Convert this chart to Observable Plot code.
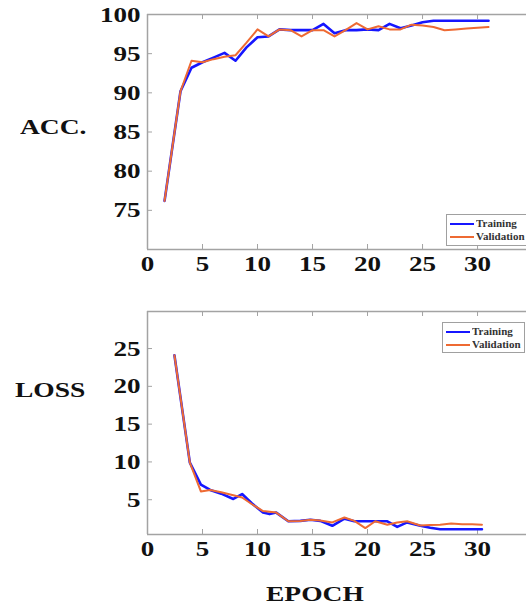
<!DOCTYPE html>
<html><head><meta charset="utf-8">
<script src="https://cdn.jsdelivr.net/npm/d3@7"></script>
<script src="https://cdn.jsdelivr.net/npm/@observablehq/plot@0.6"></script>
<style>
body{margin:0;background:#fff;}
#wrap{position:relative;width:526px;height:606px;overflow:hidden;font-family:"Liberation Serif","Times New Roman",serif;background:#fff;}
.lbl{position:absolute;font-weight:bold;font-size:22px;color:#111;transform-origin:left center;transform:scaleX(1.25);white-space:nowrap;line-height:22px;}
.legend{position:absolute;border:1px solid #a0a0a0;background:#fff;box-sizing:border-box;padding:2px 0 0 3px;}
.row{display:flex;align-items:center;height:13px;}
.sw{width:24px;height:2px;margin-right:2px;}
.tx{font-size:10px;font-weight:bold;color:#333;transform-origin:left center;transform:scaleX(1.1);white-space:nowrap;}
.panel{position:absolute;left:0;}
</style>
</head><body>
<div id="wrap"></div>
<script>
(function () {
// ---- data ----
const seriesNames = ["Training", "Validation"];
const seriesColors = ["#1616ff", "#ee6a33"];
const xTicks = [0, 5, 10, 15, 20, 25, 30];
const accTicks = [75, 80, 85, 90, 95, 100];
const lossTicks = [5, 10, 15, 20, 25];
const axisTitles = ["ACC.", "LOSS", "EPOCH"];

const accEpochs = [1.55, 3, 4, 5, 6, 7, 8, 9, 10, 11, 12, 13, 14, 15, 16, 17, 18, 19, 20, 21, 22, 23, 24, 25, 26, 27, 28, 29, 30, 31];
const accTrain = [76.2, 90.2, 93.2, 93.9, 94.5, 95.1, 94.1, 95.8, 97.1, 97.2, 98.1, 98.0, 98.0, 98.0, 98.8, 97.6, 98.0, 98.0, 98.1, 98.0, 98.8, 98.25, 98.6, 99.0, 99.2, 99.2, 99.2, 99.2, 99.2, 99.2];
const accVal = [76.2, 90.2, 94.1, 93.9, 94.3, 94.6, 94.8, 96.4, 98.1, 97.2, 98.1, 98.0, 97.2, 98.0, 98.0, 97.2, 98.0, 98.9, 98.1, 98.5, 98.1, 98.1, 98.7, 98.6, 98.4, 98.0, 98.1, 98.2, 98.3, 98.4];

const lossEpochs = [2.45, 3.85, 4.85, 5.7, 6.7, 7.8, 8.6, 9.5, 10.5, 11.1, 11.7, 12.8, 13.9, 14.8, 15.7, 16.8, 17.9, 18.8, 19.8, 20.7, 21.8, 22.7, 23.6, 24.8, 25.7, 26.6, 27.6, 28.6, 29.5, 30.4];
const lossTrain = [24.1, 9.9, 7.0, 6.3, 5.8, 5.1, 5.75, 4.5, 3.3, 3.1, 3.3, 2.15, 2.2, 2.35, 2.2, 1.55, 2.5, 2.15, 2.15, 2.15, 2.15, 1.4, 2.0, 1.55, 1.3, 1.1, 1.1, 1.1, 1.1, 1.1];
const lossVal = [24.1, 9.9, 6.1, 6.3, 6.0, 5.6, 5.3, 4.4, 3.5, 3.4, 3.3, 2.15, 2.2, 2.35, 2.25, 2.0, 2.65, 2.2, 1.25, 2.15, 1.7, 2.0, 2.15, 1.6, 1.65, 1.7, 1.85, 1.75, 1.75, 1.7];

// ---- drawing ----
const W = 526, ML = 147;
function rowsOf(epochs, vals, name) { return epochs.map((e, i) => ({epoch: e, value: vals[i], series: name})); }

function panel({epochs, train, val, yDomain, yTicks, height, marginTop, marginBottom}) {
  const plotH = height - marginTop - marginBottom;
  const plotW = W - ML;
  const trainRows = rowsOf(epochs, train, seriesNames[0]);
  const valRows = rowsOf(epochs, val, seriesNames[1]);
  const gray = "#a3a3a3";
  return Plot.plot({
    width: W, height, marginLeft: ML, marginRight: 0, marginTop, marginBottom,
    x: {domain: [0, 34.45]},
    y: {domain: yDomain},
    style: {fontFamily: "'Liberation Serif', 'Times New Roman', serif", background: "transparent", overflow: "visible"},
    marks: [
      Plot.ruleY([yDomain[1]], {stroke: gray, strokeWidth: 1.5}),
      Plot.ruleY([yDomain[0]], {stroke: gray, strokeWidth: 1.5}),
      Plot.ruleX([0], {stroke: gray, strokeWidth: 1.5}),
      Plot.tickX(xTicks.filter(t => t > 0), {x: d => d, stroke: gray, insetTop: plotH - 5}),
      Plot.tickX(xTicks.filter(t => t > 0), {x: d => d, stroke: gray, insetBottom: plotH - 5}),
      Plot.tickY(yTicks, {y: d => d, stroke: gray, insetRight: plotW - 5}),
      Plot.line(trainRows, {x: "epoch", y: "value", stroke: seriesColors[0], strokeWidth: 2.6}),
      Plot.line(valRows, {x: "epoch", y: "value", stroke: seriesColors[1], strokeWidth: 2}),
      Plot.axisX({ticks: xTicks, tickSize: 0, tickPadding: 6, fontSize: 22, fontWeight: "bold", fill: "#111", tickFormat: d => String(d), label: null}),
      Plot.axisY({ticks: yTicks, tickSize: 0, tickPadding: 7, fontSize: 22, fontWeight: "bold", fill: "#111", tickFormat: d => String(d), label: null})
    ]
  });
}

const wrap = document.getElementById("wrap");

const accSvg = panel({epochs: accEpochs, train: accTrain, val: accVal, yDomain: [70, 100], yTicks: accTicks, height: 289, marginTop: 14, marginBottom: 40});
accSvg.classList.add("panel"); accSvg.style.top = "0px";
wrap.appendChild(accSvg);

const lossSvg = panel({epochs: lossEpochs, train: lossTrain, val: lossVal, yDomain: [0.4, 29.9], yTicks: lossTicks, height: 277, marginTop: 14, marginBottom: 40});
lossSvg.classList.add("panel"); lossSvg.style.top = "297px";
wrap.appendChild(lossSvg);

// stretch tick labels horizontally like the reference
for (const svg of [accSvg, lossSvg]) {
  svg.querySelectorAll("text").forEach(t => {
    const len = t.getComputedTextLength();
    if (len > 0) { t.setAttribute("textLength", (len * 1.23).toFixed(1)); t.setAttribute("lengthAdjust", "spacingAndGlyphs"); }
  });
}

function addLabel(text, left, topPx) {
  const d = document.createElement("div");
  d.className = "lbl"; d.textContent = text;
  d.style.left = left + "px"; d.style.top = topPx + "px";
  wrap.appendChild(d);
}
addLabel(axisTitles[0], 20, 116);
addLabel(axisTitles[1], 15, 379);
addLabel(axisTitles[2], 266, 583);

function addLegend(left, topPx, w, h) {
  const lg = document.createElement("div");
  lg.className = "legend";
  lg.style.left = left + "px"; lg.style.top = topPx + "px";
  lg.style.width = w + "px"; lg.style.height = h + "px";
  seriesNames.forEach((n, i) => {
    const r = document.createElement("div"); r.className = "row";
    const s = document.createElement("div"); s.className = "sw"; s.style.background = seriesColors[i];
    const t = document.createElement("div"); t.className = "tx"; t.textContent = n;
    r.appendChild(s); r.appendChild(t); lg.appendChild(r);
  });
  wrap.appendChild(lg);
}
addLegend(446, 214, 82, 32);
addLegend(442, 322, 83, 31);
})();
</script>
</body></html>
